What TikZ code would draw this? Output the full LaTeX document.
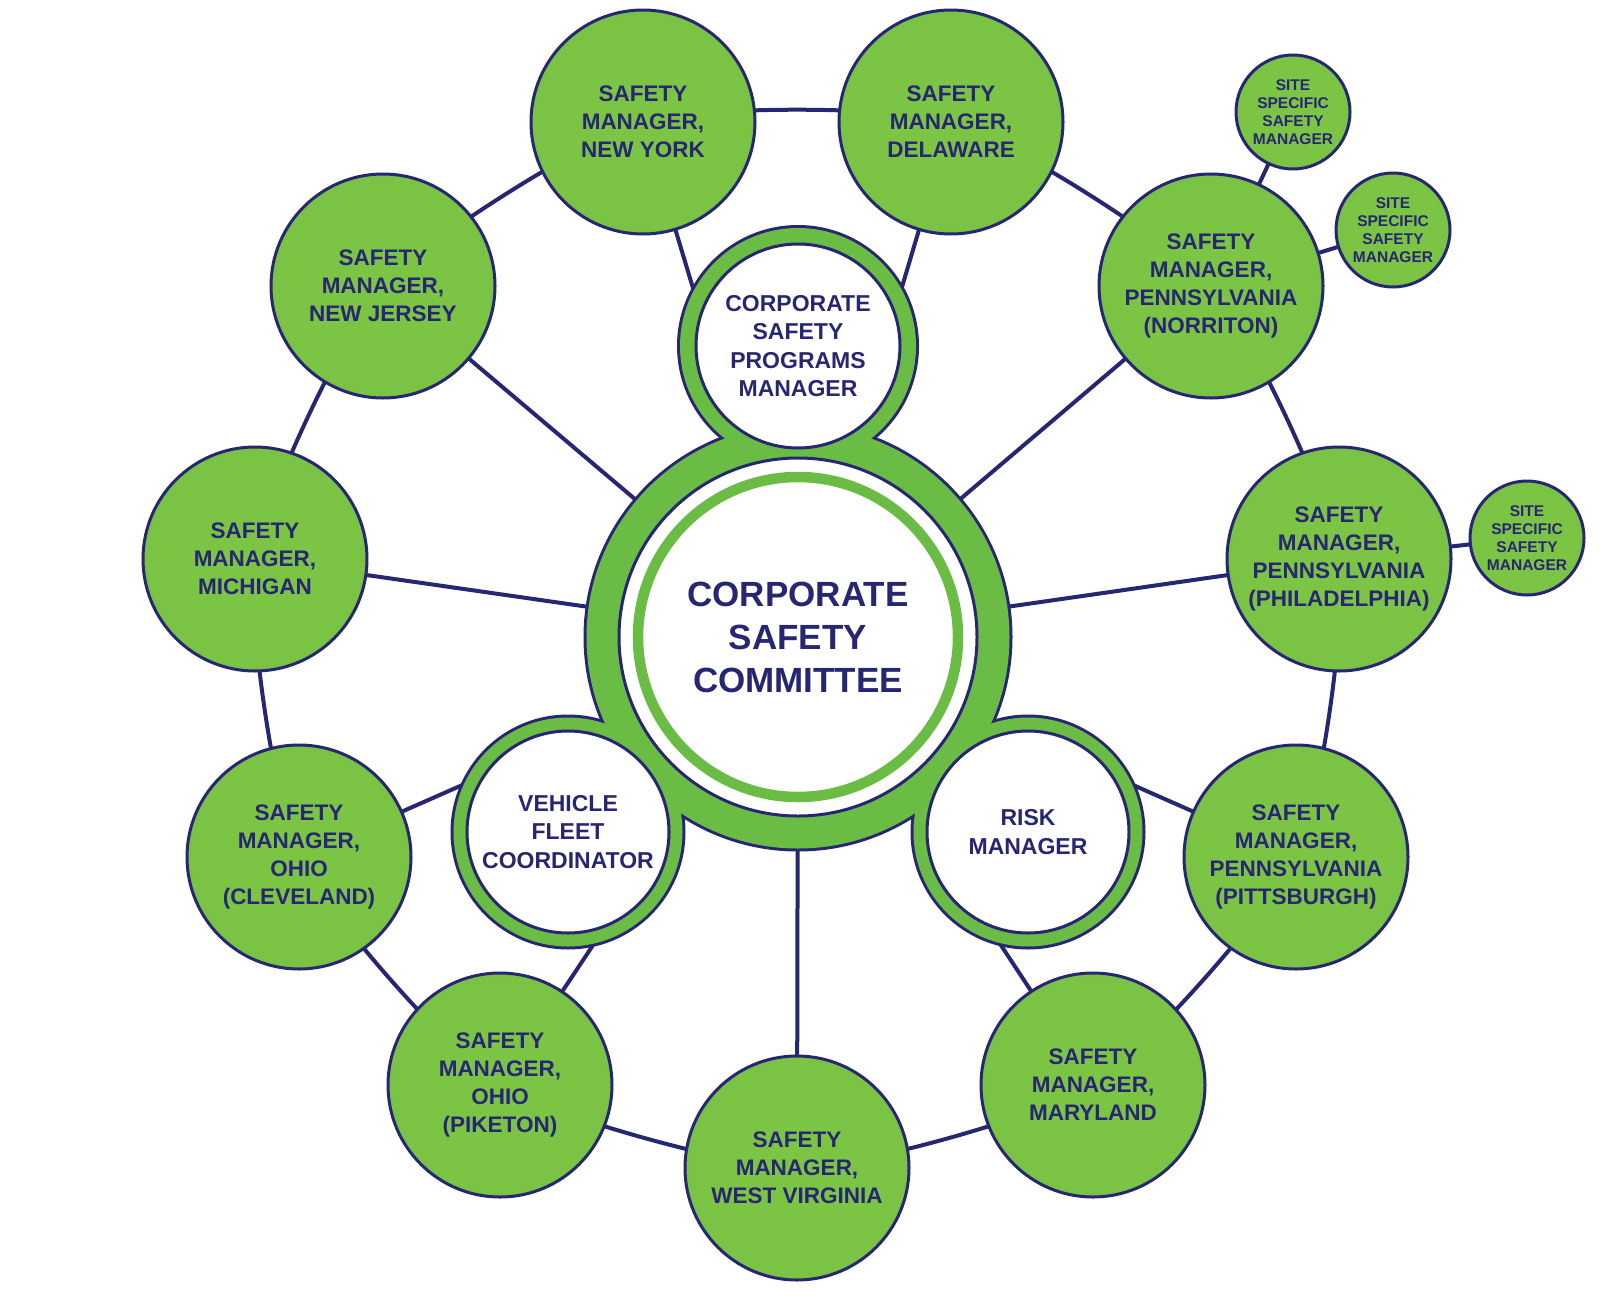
\documentclass[tikz,border=0pt]{standalone}
\usepackage{fontspec}
\setmainfont{Liberation Sans}
\definecolor{navy}{RGB}{38,38,115}
\definecolor{gmain}{RGB}{106,188,69}
\definecolor{glight}{RGB}{124,196,68}
\pgfdeclareradialshading{gball}{\pgfpoint{0bp}{0bp}}{color(0bp)=(glight); color(20bp)=(glight); color(50bp)=(gmain)}
\pgfdeclarelayer{bg}
\pgfdeclarelayer{mid}
\pgfsetlayers{bg,mid,main}
\tikzset{
  mgr/.style={circle, minimum size=224pt, inner sep=0pt, shade, shading=gball,
    draw=navy, line width=3pt, text=navy, align=center,
    font=\bfseries\fontsize{22.5}{28}\selectfont},
  site/.style={circle, minimum size=114pt, inner sep=0pt, shade, shading=gball,
    draw=navy, line width=3pt, text=navy, align=center,
    font=\bfseries\fontsize{15.5}{18}\selectfont},
  innertext/.style={inner sep=0pt, text=navy, align=center,
    font=\bfseries\fontsize{23}{28.5}\selectfont},
  bigtext/.style={inner sep=0pt, text=navy, align=center,
    font=\bfseries\fontsize{35}{43}\selectfont},
  link/.style={draw=navy, line width=4pt},
}
\begin{document}
\begin{tikzpicture}[x=1pt, y=-1pt]
\useasboundingbox (0,0) rectangle (1600,1296);
% outer managers
\node[mgr] (ny)  at (643,122)  {SAFETY\\MANAGER,\\NEW YORK};
\node[mgr] (de)  at (951,122)  {SAFETY\\MANAGER,\\DELAWARE};
\node[mgr] (nj)  at (383,286)  {SAFETY\\MANAGER,\\NEW JERSEY};
\node[mgr] (mi)  at (255,559)  {SAFETY\\MANAGER,\\MICHIGAN};
\node[mgr] (ohc) at (299,857)  {SAFETY\\MANAGER,\\OHIO\\(CLEVELAND)};
\node[mgr] (ohp) at (500,1085) {SAFETY\\MANAGER,\\OHIO\\(PIKETON)};
\node[mgr] (wv)  at (797,1168) {SAFETY\\MANAGER,\\WEST VIRGINIA};
\node[mgr] (md)  at (1093,1085){SAFETY\\MANAGER,\\MARYLAND};
\node[mgr] (pit) at (1296,857) {SAFETY\\MANAGER,\\PENNSYLVANIA\\(PITTSBURGH)};
\node[mgr] (phl) at (1339,559) {SAFETY\\MANAGER,\\PENNSYLVANIA\\(PHILADELPHIA)};
\node[mgr] (nor) at (1211,286) {SAFETY\\MANAGER,\\PENNSYLVANIA\\(NORRITON)};
% site specific
\node[site] (sa) at (1293,112) {SITE\\SPECIFIC\\SAFETY\\MANAGER};
\node[site] (sb) at (1393,230) {SITE\\SPECIFIC\\SAFETY\\MANAGER};
\node[site] (sc) at (1527,538) {SITE\\SPECIFIC\\SAFETY\\MANAGER};
% inner texts
\node[bigtext]   (cc) at (798,637) {CORPORATE\\SAFETY\\COMMITTEE};
\node[innertext] (tp) at (798,346) {CORPORATE\\SAFETY\\PROGRAMS\\MANAGER};
\node[innertext] (vf) at (568,832) {VEHICLE\\FLEET\\COORDINATOR};
\node[innertext] (rm) at (1028,832) {RISK\\MANAGER};

\begin{pgfonlayer}{bg}
  \fill[white] (0,0) rectangle (1600,1296);
  \draw[link] plot[smooth cycle, tension=0.36] coordinates {(ny.center) (de.center) (nor.center) (phl.center) (pit.center) (md.center) (wv.center) (ohp.center) (ohc.center) (mi.center) (nj.center)};
  \foreach \n in {ny,de,nj,mi,ohc,ohp,wv,md,pit,phl,nor}
    \draw[link] (\n.center) -- (cc.center);
  \draw[link] (sa.center) -- (nor.center);
  \draw[link] (sb.center) -- (nor.center);
  \draw[link] (sc.center) -- (phl.center);
\end{pgfonlayer}

\begin{pgfonlayer}{mid}
  \foreach \n/\r in {cc/211.5, tp/118, vf/114.5, rm/114.5}
    \path[draw=navy, line width=6pt] (\n.center) circle[radius=\r pt];
  \foreach \n/\r in {cc/211.5, tp/118, vf/114.5, rm/114.5}
    \path[fill=gmain] (\n.center) circle[radius=\r pt];
  \foreach \n/\r in {cc/179, tp/102, vf/101, rm/101}
    \path[fill=white, draw=navy, line width=3pt] (\n.center) circle[radius=\r pt];
  \path[draw=gmain, line width=10.5pt] (cc.center) circle[radius=160pt];
\end{pgfonlayer}
\end{tikzpicture}
\end{document}
